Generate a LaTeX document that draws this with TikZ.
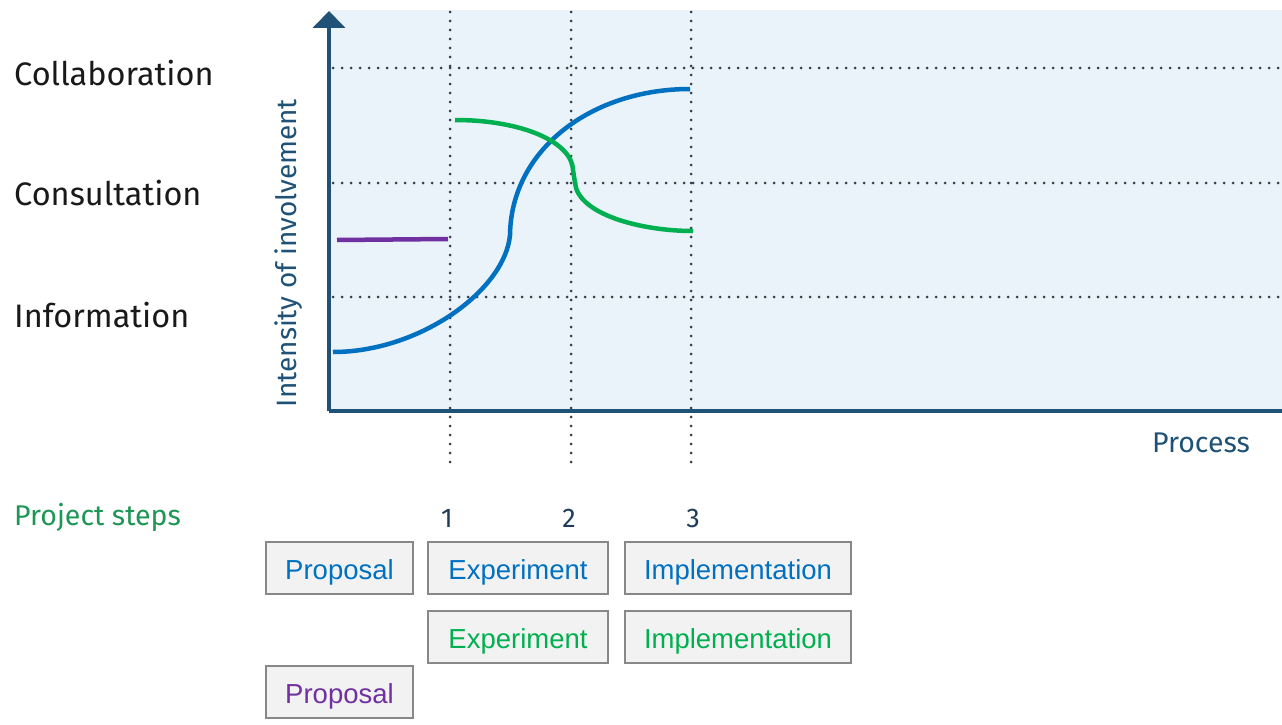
\documentclass[tikz,border=0pt]{standalone}
\usepackage{fontspec}
\setmainfont{Fira Sans}
\newfontfamily\boxfont{Liberation Sans}
\usetikzlibrary{arrows.meta}
\definecolor{bgblue}{RGB}{234,242,250}
\definecolor{axisblue}{RGB}{31,82,118}
\definecolor{dotgray}{RGB}{50,62,76}
\definecolor{cblue}{RGB}{0,112,192}
\definecolor{cgreen}{RGB}{0,176,80}
\definecolor{cpurple}{RGB}{112,48,160}
\definecolor{stepgreen}{RGB}{30,150,85}
\definecolor{numblue}{RGB}{30,60,90}
\definecolor{boxfill}{RGB}{242,242,242}
\definecolor{boxline}{RGB}{136,136,136}
\tikzset{
  dotline/.style={dotgray, line width=3pt, line cap=round, dash pattern=on 0pt off 9pt},
  curve/.style={line width=4.5pt},
  level/.style={anchor=base west, font=\fontsize{32.5}{32.5}\selectfont, text=black!90, inner sep=0pt},
  stepbox/.style={draw=boxline, line width=1.2pt, fill=boxfill, minimum height=52pt, inner sep=0pt, text height=26pt, text depth=4pt, font=\boxfont\fontsize{27.5}{27.5}\selectfont},
  num/.style={font=\fontsize{27}{27}\selectfont, text=numblue, inner sep=0pt}
}
\begin{document}
\begin{tikzpicture}[x=1pt,y=-1pt]
\useasboundingbox (0,0) rectangle (1282,725);
% background
\fill[bgblue] (329,10) rectangle (1282,411);
% grid
\coordinate (h1a) at (333,68); \coordinate (h1b) at (1282,68);
\coordinate (h2a) at (333,183); \coordinate (h2b) at (1282,183);
\coordinate (h3a) at (333,297); \coordinate (h3b) at (1282,297);
\draw[dotline] (h1a) -- (h1b);
\draw[dotline] (h2a) -- (h2b);
\draw[dotline] (h3a) -- (h3b);
\coordinate (v1a) at (450,12); \coordinate (v1b) at (450,470);
\coordinate (v2a) at (571,12); \coordinate (v2b) at (571,470);
\coordinate (v3a) at (691,12); \coordinate (v3b) at (691,470);
\draw[dotline] (v1a) -- (v1b);
\draw[dotline] (v2a) -- (v2b);
\draw[dotline] (v3a) -- (v3b);
% axes
\coordinate (O) at (329,411);
\coordinate (ytip) at (329,11);
\coordinate (xend) at (1282,411);
\draw[axisblue, line width=4pt] (xend) -- (O);
\draw[axisblue, line width=4pt, -{Triangle[width=32pt,length=17pt]}] (O) -- (ytip);
% curves
\coordinate (p1) at (337,240); \coordinate (p2) at (448,239);
\draw[cpurple, curve] (p1) -- (p2);
\coordinate (b0) at (333,352); \coordinate (bm) at (510,235); \coordinate (b1) at (690,89);
\draw[cblue, curve] (b0) .. controls (420,352) and (505,290) .. (bm)
  .. controls (511,150) and (591,89) .. (b1);
\coordinate (g0) at (455,120); \coordinate (gm1) at (573,170); \coordinate (gm2) at (575,183); \coordinate (g1) at (693,231);
\draw[cgreen, curve] (g0) .. controls (522,120) and (572,142) .. (gm1) -- (gm2)
  .. controls (578,214) and (640,231) .. (g1);
% labels
\node[level] (collab) at (14,85) {Collaboration};
\node[level] (consult) at (14,205) {Consultation};
\node[level] (inform) at (14,327) {Information};
\node[rotate=90, font=\fontsize{28}{28}\selectfont, text=axisblue, inner sep=0pt] (ylab) at (289,253) {Intensity of involvement};
\node[font=\fontsize{28.5}{28.5}\selectfont, text=axisblue, inner sep=0pt] (xlab) at (1201,443) {Process};
\node[anchor=west, font=\fontsize{28.5}{28.5}\selectfont, text=stepgreen, inner sep=0pt] (steps) at (14,517) {Project steps};
\node[num] (n1) at (447,518) {1};
\node[num] (n2) at (569,518) {2};
\node[num] (n3) at (693,518) {3};
% boxes
\node[stepbox, minimum width=147pt, text=cblue] (prop1) at (339.5,568) {Proposal};
\node[stepbox, minimum width=180pt, text=cblue] (exp1) at (518,568) {Experiment};
\node[stepbox, minimum width=226pt, text=cblue] (imp1) at (738,568) {Implementation};
\node[stepbox, minimum width=180pt, text=cgreen] (exp2) at (518,637) {Experiment};
\node[stepbox, minimum width=226pt, text=cgreen] (imp2) at (738,637) {Implementation};
\node[stepbox, minimum width=147pt, text=cpurple] (prop2) at (339.5,692) {Proposal};
\end{tikzpicture}
\end{document}
